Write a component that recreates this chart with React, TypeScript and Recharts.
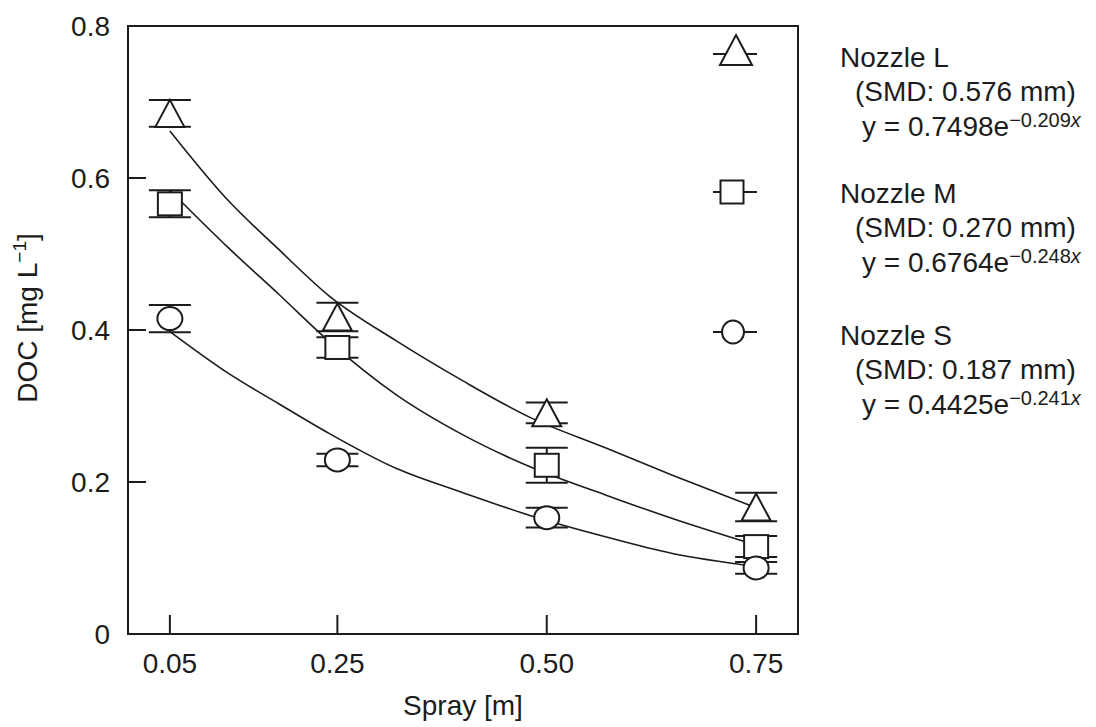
import React from 'react';
import {
  ComposedChart,
  Line,
  Scatter,
  ErrorBar,
  XAxis,
  YAxis,
  ReferenceArea,
  Legend,
} from 'recharts';

// spray distance [m]
const sprayX = [0.05, 0.25, 0.5, 0.75];

// measured DOC [mg/L] (mean and error) per nozzle
const nozzleLMean = [0.685, 0.417, 0.291, 0.167];
const nozzleLErr = [0.0175, 0.0187, 0.0136, 0.0187];
const nozzleMMean = [0.566, 0.377, 0.222, 0.115];
const nozzleMErr = [0.0178, 0.0134, 0.023, 0.0138];
const nozzleSMean = [0.415, 0.229, 0.153, 0.087];
const nozzleSErr = [0.018, 0.0083, 0.013, 0.0077];

// fitted curves
const fitX = [0.05, 0.12, 0.18, 0.24, 0.32, 0.4, 0.48, 0.57, 0.65, 0.75];
const fitL = [0.662, 0.57, 0.506, 0.445, 0.386, 0.333, 0.285, 0.245, 0.209, 0.166];
const fitM = [0.584, 0.508, 0.447, 0.385, 0.315, 0.262, 0.22, 0.183, 0.152, 0.117];
const fitS = [0.398, 0.343, 0.303, 0.264, 0.218, 0.186, 0.156, 0.128, 0.106, 0.089];

const xTicks = [0.05, 0.25, 0.5, 0.75];
const xTickLabels = ['0.05', '0.25', '0.50', '0.75'];
const yTicks = [0, 0.2, 0.4, 0.6, 0.8];
const yTickLabels = ['0', '0.2', '0.4', '0.6', '0.8'];

const legendNames = ['Nozzle L', 'Nozzle M', 'Nozzle S'];
const legendSmd = ['(SMD: 0.576 mm)', '(SMD: 0.270 mm)', '(SMD: 0.187 mm)'];
const legendCoef = ['0.7498', '0.6764', '0.4425'];
const legendExp = ['\u22120.209', '\u22120.248', '\u22120.241'];

const INK = '#1c1c1c';
const FONT = '"Liberation Sans", Arial, Helvetica, sans-serif';

const toPoints = (xs: number[], ys: number[], errs?: number[]) =>
  xs.map((x, i) => ({ x, y: ys[i], err: errs ? errs[i] : 0 }));

const obsL = toPoints(sprayX, nozzleLMean, nozzleLErr);
const obsM = toPoints(sprayX, nozzleMMean, nozzleMErr);
const obsS = toPoints(sprayX, nozzleSMean, nozzleSErr);
const curveL = toPoints(fitX, fitL);
const curveM = toPoints(fitX, fitM);
const curveS = toPoints(fitX, fitS);

const Triangle = ({ cx, cy, w = 14.5, up = 13.5, down = 13.5 }: any) => (
  <path
    d={`M${cx},${cy - up} L${cx + w},${cy + down} L${cx - w},${cy + down} Z`}
    fill="#fff"
    stroke={INK}
    strokeWidth={2}
  />
);

const Square = ({ cx, cy, w = 12, h = 11.5 }: any) => (
  <rect x={cx - w} y={cy - h} width={w * 2} height={h * 2} fill="#fff" stroke={INK} strokeWidth={2} />
);

const Circle = ({ cx, cy, rx = 12.5, ry = 11.5 }: any) => (
  <ellipse cx={cx} cy={cy} rx={rx} ry={ry} fill="#fff" stroke={INK} strokeWidth={2} />
);

const YTick = (props: any) => {
  const { x, y, payload } = props;
  const v = payload.value;
  const i = yTicks.indexOf(v);
  const inner = v > 0 && v < 0.8;
  return (
    <g>
      <text x={x} y={y} dy="0.36em" textAnchor="end" fontSize={28} fill={INK} fontFamily={FONT}>
        {yTickLabels[i]}
      </text>
      {inner && <line x1={x + 18} x2={x + 36} y1={y} y2={y} stroke={INK} strokeWidth={2} />}
    </g>
  );
};

const XTick = (props: any) => {
  const { x, y, payload } = props;
  const i = xTicks.indexOf(payload.value);
  return (
    <g>
      <text x={x} y={y + 39} textAnchor="middle" fontSize={28} fill={INK} fontFamily={FONT}>
        {xTickLabels[i]}
      </text>
      <line x1={x} x2={x} y1={y} y2={y - 19} stroke={INK} strokeWidth={2} />
    </g>
  );
};

const XLabel = (props: any) => {
  const vb = props.viewBox || { x: 128, y: 634, width: 670, height: 93 };
  return (
    <text x={vb.x + vb.width / 2} y={vb.y + 81} textAnchor="middle" fontSize={28} fill={INK} fontFamily={FONT}>
      Spray [m]
    </text>
  );
};

const YLabel = (props: any) => {
  const vb = props.viewBox || { x: 0, y: 26, width: 128, height: 608 };
  const cx = vb.x + 37;
  const cy = vb.y + vb.height / 2 - 12;
  return (
    <text
      x={cx}
      y={cy}
      transform={`rotate(-90 ${cx} ${cy})`}
      textAnchor="middle"
      fontSize={28}
      fill={INK}
      fontFamily={FONT}
    >
      DOC [mg L
      <tspan dy={-11} fontSize={19}>
        {'\u22121'}
      </tspan>
      <tspan dy={11}>]</tspan>
    </text>
  );
};

const legendIconY = [54, 192, 332];
const legendTextY = [67, 203, 345];

const renderLegend = () => (
  <svg width={396} height={440} style={{ display: 'block', overflow: 'visible' }}>
    {legendNames.map((name, i) => {
      const iy = legendIconY[i];
      const ty = legendTextY[i];
      return (
        <g key={name}>
          <line x1={13} x2={57} y1={iy} y2={iy} stroke={INK} strokeWidth={2} />
          {i === 0 && <Triangle cx={36} cy={iy} w={16} up={19} down={11} />}
          {i === 1 && <Square cx={32} cy={iy} w={11.5} h={11.5} />}
          {i === 2 && <Circle cx={33} cy={iy} rx={11} ry={11.5} />}
          <text x={140} y={ty} fontSize={28} fill={INK} fontFamily={FONT}>
            {name}
          </text>
          <text x={155} y={ty + 34} fontSize={28} fill={INK} fontFamily={FONT}>
            {legendSmd[i]}
          </text>
          <text x={162} y={ty + 69} fontSize={28} fill={INK} fontFamily={FONT}>
            {`y = ${legendCoef[i]}e`}
            <tspan dy={-9} fontSize={20}>
              {legendExp[i]}
              <tspan fontStyle="italic">x</tspan>
            </tspan>
          </text>
        </g>
      );
    })}
  </svg>
);

const App: React.FC = () => {
  return (
    <div style={{ position: 'absolute', left: 0, top: 0, width: 1096, height: 727, background: '#fff' }}>
      <ComposedChart width={1096} height={727} margin={{ top: 26, right: 298, bottom: 0, left: 0 }}>
        <XAxis
          type="number"
          dataKey="x"
          domain={[0, 0.8]}
          ticks={xTicks}
          interval={0}
          height={93}
          tickSize={0}
          tickMargin={0}
          axisLine={false}
          tickLine={false}
          tick={(p: any) => <XTick {...p} />}
          label={<XLabel />}
          allowDataOverflow
        />
        <YAxis
          type="number"
          dataKey="y"
          domain={[0, 0.8]}
          ticks={yTicks}
          interval={0}
          width={128}
          tickSize={0}
          tickMargin={18}
          axisLine={false}
          tickLine={false}
          tick={(p: any) => <YTick {...p} />}
          label={<YLabel />}
          allowDataOverflow
        />
        <ReferenceArea
          x1={0}
          x2={0.8}
          y1={0}
          y2={0.8}
          fill="none"
          fillOpacity={0}
          stroke={INK}
          strokeWidth={2}
          ifOverflow="visible"
        />
        <Line data={curveL} dataKey="y" type="monotone" dot={false} stroke={INK} strokeWidth={1.6} isAnimationActive={false} legendType="none" />
        <Line data={curveM} dataKey="y" type="monotone" dot={false} stroke={INK} strokeWidth={1.6} isAnimationActive={false} legendType="none" />
        <Line data={curveS} dataKey="y" type="monotone" dot={false} stroke={INK} strokeWidth={1.6} isAnimationActive={false} legendType="none" />
        <Scatter data={obsL} dataKey="y" isAnimationActive={false} shape={(p: any) => <Triangle cx={p.cx} cy={p.cy} />}>
          <ErrorBar dataKey="err" direction="y" width={21} stroke={INK} strokeWidth={2} isAnimationActive={false} />
        </Scatter>
        <Scatter data={obsM} dataKey="y" isAnimationActive={false} shape={(p: any) => <Square cx={p.cx} cy={p.cy} />}>
          <ErrorBar dataKey="err" direction="y" width={21} stroke={INK} strokeWidth={2} isAnimationActive={false} />
        </Scatter>
        <Scatter data={obsS} dataKey="y" isAnimationActive={false} shape={(p: any) => <Circle cx={p.cx} cy={p.cy} />}>
          <ErrorBar dataKey="err" direction="y" width={21} stroke={INK} strokeWidth={2} isAnimationActive={false} />
        </Scatter>
        <Legend
          layout="horizontal"
          align="center"
          verticalAlign="middle"
          content={renderLegend}
          wrapperStyle={{ left: 700, top: 0, width: 396, height: 440 }}
        />
      </ComposedChart>
    </div>
  );
};

export default App;
